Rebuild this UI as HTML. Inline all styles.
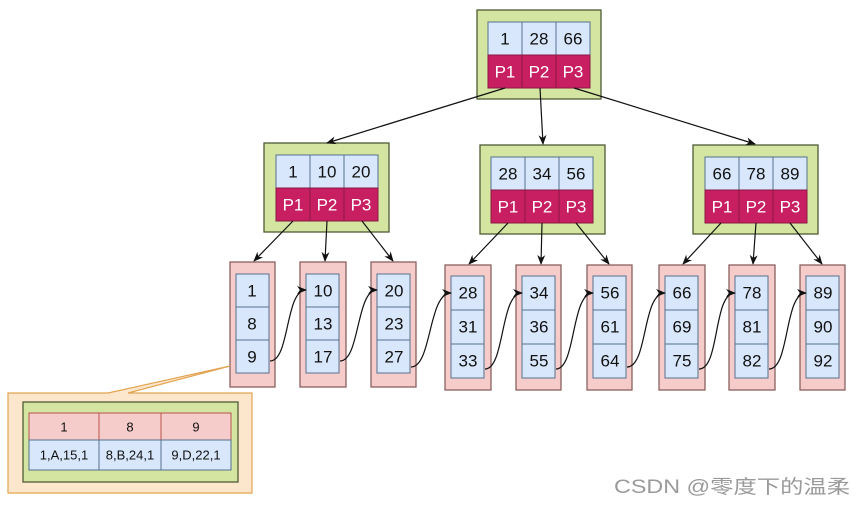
<!DOCTYPE html>
<html><head><meta charset="utf-8"><style>
html,body{margin:0;padding:0;background:#fff;}
svg{display:block;font-family:"Liberation Sans","Noto Sans CJK SC",sans-serif;}
.g{fill:#d3e5a0;stroke:#4f5a35;stroke-width:1.3}
.b{fill:#d8e7fb;stroke:#56708f;stroke-width:1}
.m{fill:#c81e62;stroke:#8a1a44;stroke-width:1}
.p{fill:#f6cccb;stroke:#8a6060;stroke-width:1.3}
.t{font-size:17px;fill:#111;text-anchor:middle;dominant-baseline:central}
.w{font-size:17px;fill:#fff;text-anchor:middle;dominant-baseline:central}
.s{font-size:13px;fill:#111;text-anchor:middle;dominant-baseline:central}
.e{stroke:#111;stroke-width:1.2;fill:none;marker-end:url(#a)}
</style></head><body>
<svg width="860" height="505" viewBox="0 0 860 505">
<defs><marker id="a" markerWidth="10" markerHeight="10" refX="9" refY="5" orient="auto" markerUnits="userSpaceOnUse"><path d="M0,1 L10,5 L0,9 L3,5 Z" fill="#111"/></marker></defs>

<rect class="g" x="477" y="10" width="124" height="89"/>
<rect class="b" x="488" y="22" width="34" height="33"/><rect class="b" x="522" y="22" width="34" height="33"/><rect class="b" x="556" y="22" width="34" height="33"/>
<rect class="m" x="488" y="55" width="34" height="33"/><rect class="m" x="522" y="55" width="34" height="33"/><rect class="m" x="556" y="55" width="34" height="33"/>
<text class="t" x="505" y="39">1</text><text class="t" x="539" y="39">28</text><text class="t" x="573" y="39">66</text>
<text class="w" x="505" y="72">P1</text><text class="w" x="539" y="72">P2</text><text class="w" x="573" y="72">P3</text>

<g>
<rect class="g" x="264" y="143" width="125" height="89"/>
<rect class="b" x="276" y="155" width="34" height="33"/><rect class="b" x="310" y="155" width="34" height="33"/><rect class="b" x="344" y="155" width="34" height="33"/>
<rect class="m" x="276" y="188" width="34" height="33"/><rect class="m" x="310" y="188" width="34" height="33"/><rect class="m" x="344" y="188" width="34" height="33"/>
<text class="t" x="293" y="172">1</text><text class="t" x="327" y="172">10</text><text class="t" x="361" y="172">20</text>
<text class="w" x="293" y="205">P1</text><text class="w" x="327" y="205">P2</text><text class="w" x="361" y="205">P3</text>
</g>
<g>
<rect class="g" x="480" y="145" width="125" height="89"/>
<rect class="b" x="491" y="157" width="34" height="33"/><rect class="b" x="525" y="157" width="34" height="33"/><rect class="b" x="559" y="157" width="34" height="33"/>
<rect class="m" x="491" y="190" width="34" height="33"/><rect class="m" x="525" y="190" width="34" height="33"/><rect class="m" x="559" y="190" width="34" height="33"/>
<text class="t" x="508" y="174">28</text><text class="t" x="542" y="174">34</text><text class="t" x="576" y="174">56</text>
<text class="w" x="508" y="207">P1</text><text class="w" x="542" y="207">P2</text><text class="w" x="576" y="207">P3</text>
</g>
<g>
<rect class="g" x="693" y="145" width="125" height="89"/>
<rect class="b" x="705" y="157" width="34" height="33"/><rect class="b" x="739" y="157" width="34" height="33"/><rect class="b" x="773" y="157" width="34" height="33"/>
<rect class="m" x="705" y="190" width="34" height="33"/><rect class="m" x="739" y="190" width="34" height="33"/><rect class="m" x="773" y="190" width="34" height="33"/>
<text class="t" x="722" y="174">66</text><text class="t" x="756" y="174">78</text><text class="t" x="790" y="174">89</text>
<text class="w" x="722" y="207">P1</text><text class="w" x="756" y="207">P2</text><text class="w" x="790" y="207">P3</text>
</g>

<line class="e" x1="505" y1="88" x2="327" y2="143"/>
<line class="e" x1="540" y1="88" x2="543" y2="144"/>
<line class="e" x1="574" y1="88" x2="755" y2="144"/>
<line class="e" x1="293" y1="221" x2="254" y2="261"/>
<line class="e" x1="327" y1="221" x2="325" y2="261"/>
<line class="e" x1="362" y1="221" x2="393" y2="261"/>
<line class="e" x1="508" y1="223" x2="469" y2="264"/>
<line class="e" x1="542" y1="223" x2="541" y2="264"/>
<line class="e" x1="576" y1="223" x2="609" y2="264"/>
<line class="e" x1="721" y1="223" x2="683" y2="264"/>
<line class="e" x1="756" y1="223" x2="753" y2="264"/>
<line class="e" x1="790" y1="223" x2="822" y2="264"/>

<g>
<rect class="p" x="230" y="262" width="45" height="125"/>
<rect class="b" x="236" y="274" width="33" height="33"/><rect class="b" x="236" y="307" width="33" height="33"/><rect class="b" x="236" y="340" width="33" height="33"/>
<text class="t" x="252" y="291">1</text><text class="t" x="252" y="324">8</text><text class="t" x="252" y="357">9</text>
</g>
<g>
<rect class="p" x="300" y="262" width="46" height="125"/>
<rect class="b" x="306" y="274" width="33" height="33"/><rect class="b" x="306" y="307" width="33" height="33"/><rect class="b" x="306" y="340" width="33" height="33"/>
<text class="t" x="323" y="291">10</text><text class="t" x="323" y="324">13</text><text class="t" x="323" y="357">17</text>
</g>
<g>
<rect class="p" x="371" y="262" width="45" height="125"/>
<rect class="b" x="377" y="274" width="33" height="33"/><rect class="b" x="377" y="307" width="33" height="33"/><rect class="b" x="377" y="340" width="33" height="33"/>
<text class="t" x="394" y="291">20</text><text class="t" x="394" y="324">23</text><text class="t" x="394" y="357">27</text>
</g>
<g>
<rect class="p" x="445" y="265" width="46" height="125"/>
<rect class="b" x="451" y="276" width="33" height="34"/><rect class="b" x="451" y="310" width="33" height="34"/><rect class="b" x="451" y="344" width="33" height="34"/>
<text class="t" x="468" y="293">28</text><text class="t" x="468" y="327">31</text><text class="t" x="468" y="361">33</text>
</g>
<g>
<rect class="p" x="516" y="265" width="45" height="125"/>
<rect class="b" x="522" y="276" width="33" height="34"/><rect class="b" x="522" y="310" width="33" height="34"/><rect class="b" x="522" y="344" width="33" height="34"/>
<text class="t" x="539" y="293">34</text><text class="t" x="539" y="327">36</text><text class="t" x="539" y="361">55</text>
</g>
<g>
<rect class="p" x="587" y="265" width="45" height="125"/>
<rect class="b" x="593" y="276" width="33" height="34"/><rect class="b" x="593" y="310" width="33" height="34"/><rect class="b" x="593" y="344" width="33" height="34"/>
<text class="t" x="610" y="293">56</text><text class="t" x="610" y="327">61</text><text class="t" x="610" y="361">64</text>
</g>
<g>
<rect class="p" x="659" y="265" width="46" height="125"/>
<rect class="b" x="665" y="276" width="33" height="34"/><rect class="b" x="665" y="310" width="33" height="34"/><rect class="b" x="665" y="344" width="33" height="34"/>
<text class="t" x="682" y="293">66</text><text class="t" x="682" y="327">69</text><text class="t" x="682" y="361">75</text>
</g>
<g>
<rect class="p" x="729" y="265" width="46" height="125"/>
<rect class="b" x="735" y="276" width="33" height="34"/><rect class="b" x="735" y="310" width="33" height="34"/><rect class="b" x="735" y="344" width="33" height="34"/>
<text class="t" x="752" y="293">78</text><text class="t" x="752" y="327">81</text><text class="t" x="752" y="361">82</text>
</g>
<g>
<rect class="p" x="800" y="265" width="45" height="125"/>
<rect class="b" x="806" y="276" width="33" height="34"/><rect class="b" x="806" y="310" width="33" height="34"/><rect class="b" x="806" y="344" width="33" height="34"/>
<text class="t" x="823" y="293">89</text><text class="t" x="823" y="327">90</text><text class="t" x="823" y="361">92</text>
</g>

<path class="e" d="M270,361 C290,361 285,290 306,290"/>
<path class="e" d="M340,361 C360,361 356,290 377,290"/>
<path class="e" d="M411,367 C432,367 428,293 451,293"/>
<path class="e" d="M485,369 C505,369 500,293 522,293"/>
<path class="e" d="M556,369 C576,369 571,293 593,293"/>
<path class="e" d="M627,367 C648,367 642,293 665,293"/>
<path class="e" d="M699,369 C720,369 713,293 735,293"/>
<path class="e" d="M769,369 C790,369 784,293 806,293"/>

<path d="M8,393 L108,393 L230,366 L128,393 L252,393 L252,493 L8,493 Z" fill="#fde7cc" stroke="#e3a452" stroke-width="1.2"/>
<rect class="g" x="23" y="402" width="215" height="80"/>
<rect x="29" y="413" width="70" height="27" fill="#f6cccb" stroke="#b85450"/><rect x="99" y="413" width="62" height="27" fill="#f6cccb" stroke="#b85450"/><rect x="161" y="413" width="70" height="27" fill="#f6cccb" stroke="#b85450"/>
<rect class="b" x="29" y="440" width="70" height="30"/><rect class="b" x="99" y="440" width="62" height="30"/><rect class="b" x="161" y="440" width="70" height="30"/>
<text class="s" x="64" y="427">1</text><text class="s" x="130" y="427">8</text><text class="s" x="196" y="427">9</text>
<text class="s" x="64" y="455">1,A,15,1</text><text class="s" x="130" y="455">8,B,24,1</text><text class="s" x="196" y="455">9,D,22,1</text>

<text x="614" y="493" font-size="19" fill="#9a9a9a" textLength="236" lengthAdjust="spacingAndGlyphs">CSDN @零度下的温柔</text>
</svg>
</body></html>
